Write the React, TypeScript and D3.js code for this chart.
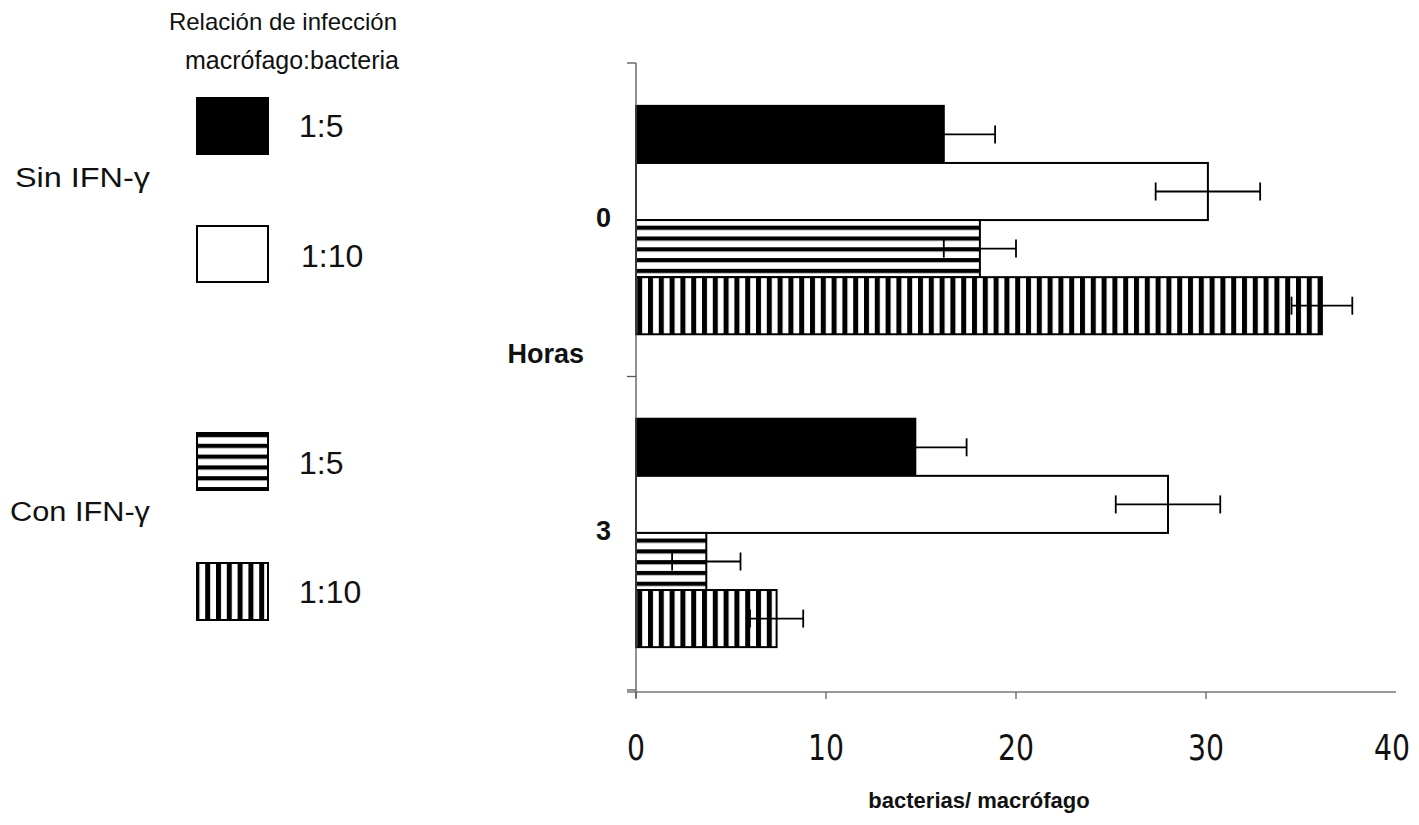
import React from "react";
import * as d3 from "d3";

// Hours post-infection shown on the vertical axis
const hours = ["0", "3"];
// Series: infection ratio, with / without IFN-γ
const seriesKeys = ["sin_1_5", "sin_1_10", "con_1_5", "con_1_10"];
const seriesLabels = ["1:5", "1:10", "1:5", "1:10"];
const seriesFills = ["black", "white", "url(#hstripe)", "url(#vstripe)"];
// bacterias / macrófago, per hour, per series
const values0 = [16.2, 30.1, 18.1, 36.1];
const values3 = [14.7, 28.0, 3.7, 7.4];
// error bar half-widths
const errors0 = [2.7, 2.75, 1.9, 1.6];
const errors3 = [2.7, 2.75, 1.8, 1.4];
const xTicks = [0, 10, 20, 30, 40];

const W = 1419;
const H = 825;
const margin = { left: 636, right: 23, top: 63, bottom: 135 };

export default function App() {
  const x = d3.scaleLinear().domain([0, 40]).range([margin.left, W - margin.right]);
  const y0 = d3
    .scaleBand<string>()
    .domain(hours)
    .range([margin.top, H - margin.bottom])
    .paddingInner(0.27)
    .paddingOuter(0.137);
  const y1 = d3.scaleBand<string>().domain(seriesKeys).range([0, y0.bandwidth()]);
  const valueRows = [values0, values3];
  const errorRows = [errors0, errors3];
  const axisColor = "#555";
  const baseY = H - margin.bottom;
  const groupEdges = [margin.top, (margin.top + baseY) / 2, baseY];

  const legendY = [98, 226, 433, 563];
  const legendTextY = [137, 267, 474, 603];
  const sans = "'Liberation Sans', Arial, sans-serif";

  return (
    <svg width={W} height={H} style={{ position: "absolute", left: 0, top: 0, background: "white" }}>
      <defs>
        <pattern id="hstripe" patternUnits="userSpaceOnUse" width="10" height="10.8">
          <rect width="10" height="10.8" fill="white" />
          <rect y="1" width="10" height="4.2" fill="black" />
        </pattern>
        <pattern id="vstripe" patternUnits="userSpaceOnUse" width="10.8" height="10">
          <rect width="10.8" height="10" fill="white" />
          <rect x="0" width="5" height="10" fill="black" />
        </pattern>
      </defs>

      {/* legend */}
      <g fontFamily={sans} fill="#111">
        <text x={283} y={30} fontSize={24} textAnchor="middle">Relación de infección</text>
        <text x={292} y={69} fontSize={25} textAnchor="middle">macrófago:bacteria</text>
        <text x={15} y={187} fontSize={27} textLength={135} lengthAdjust="spacingAndGlyphs">Sin IFN-γ</text>
        <text x={10} y={521} fontSize={27} textLength={140} lengthAdjust="spacingAndGlyphs">Con IFN-γ</text>
        {seriesKeys.map((k, i) => (
          <g key={k}>
            <rect
              x={197}
              y={legendY[i]}
              width={71}
              height={i < 2 ? 56 : 57}
              fill={seriesFills[i]}
              stroke="black"
              strokeWidth={2}
            />
            <text x={i === 1 ? 301 : 299} y={legendTextY[i]} fontSize={32}>{seriesLabels[i]}</text>
          </g>
        ))}
      </g>

      {/* bars */}
      {hours.map((h, gi) => (
        <g key={h} transform={`translate(0,${y0(h)})`}>
          {seriesKeys.map((k, si) => {
            const v = valueRows[gi][si];
            const by = y1(k)!;
            return (
              <rect
                key={k}
                x={x(0)}
                y={by}
                width={x(v) - x(0)}
                height={y1.bandwidth()}
                fill={seriesFills[si]}
                stroke="black"
                strokeWidth={2}
              />
            );
          })}
          {seriesKeys.map((k, si) => {
            const v = valueRows[gi][si];
            const e = errorRows[gi][si];
            const cy = y1(k)! + y1.bandwidth() / 2;
            return (
              <g key={k + "-err"} stroke="black" strokeWidth={1.8}>
                <line x1={x(v - e)} x2={x(v + e)} y1={cy} y2={cy} />
                <line x1={x(v - e)} x2={x(v - e)} y1={cy - 9} y2={cy + 9} />
                <line x1={x(v + e)} x2={x(v + e)} y1={cy - 9} y2={cy + 9} />
              </g>
            );
          })}
        </g>
      ))}

      {/* y axis */}
      <line x1={x(0)} x2={x(0)} y1={margin.top} y2={baseY + 8} stroke={axisColor} strokeWidth={1.3} />
      {groupEdges.map((gy, i) => (
        <line key={i} x1={x(0) - 9} x2={x(0)} y1={gy} y2={gy} stroke={axisColor} strokeWidth={1.3} />
      ))}
      <g fontFamily={sans} fontWeight="bold" fontSize={27} fill="#111">
        {hours.map((h) => (
          <text key={h} x={611} y={y0(h)! + y0.bandwidth() / 2} textAnchor="end" dominantBaseline="middle">
            {h}
          </text>
        ))}
        <text x={584} y={(margin.top + baseY) / 2 - 21} textAnchor="end" dominantBaseline="middle">Horas</text>
      </g>

      {/* x axis */}
      <line x1={x(0) - 9} x2={x(40)} y1={baseY + 2} y2={baseY + 2} stroke="#777" strokeWidth={1.3} />
      {xTicks.slice(0, 4).map((t) => (
        <line key={t} x1={x(t)} x2={x(t)} y1={baseY + 2} y2={baseY + 9} stroke={axisColor} strokeWidth={1.2} />
      ))}
      <g fontFamily="'DejaVu Sans Condensed', 'DejaVu Sans', sans-serif" fontSize={35} fill="#111">
        {xTicks.map((t) => (
          <text
            key={t}
            transform={`translate(${x(t) - (t === 40 ? 4 : 0)},760) scale(0.9,1)`}
            textAnchor="middle"
          >
            {t}
          </text>
        ))}
      </g>
      <text x={979} y={808} textAnchor="middle" fontFamily={sans} fontWeight="bold" fontSize={22} fill="#111">
        bacterias/ macrófago
      </text>
    </svg>
  );
}
